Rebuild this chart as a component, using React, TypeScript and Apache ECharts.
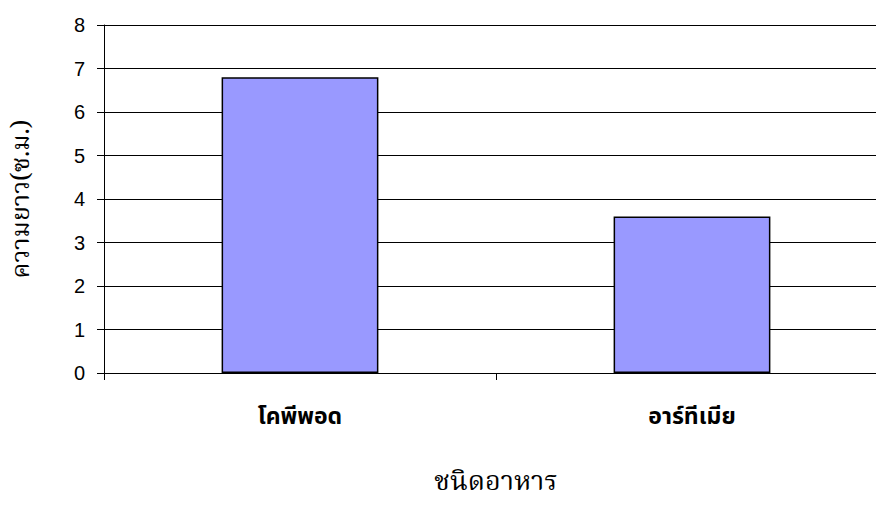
import React, { useEffect, useRef } from "react";
import * as echarts from "echarts";

// Food types and the measured length (cm) for each
const categories: string[] = ["โคพีพอด", "อาร์ทีเมีย"];
const lengths: number[] = [6.8, 3.6];
const yTicks = { min: 0, max: 8, interval: 1 };

const thaiSerif = '"Noto Serif Thai", "Norasi", "Tlwg Typo", "Garuda", "Loma", serif';
const thaiSans = '"Noto Sans Thai", "Tahoma", "Loma", "Garuda", "Noto Sans", sans-serif';

export default function App() {
  const ref = useRef<HTMLDivElement>(null);

  useEffect(() => {
    if (!ref.current) return;
    const chart = echarts.init(ref.current, undefined, { renderer: "svg" });
    chart.setOption({
      animation: false,
      backgroundColor: "#ffffff",
      grid: {
        left: 104,
        top: 25,
        bottom: 132,
        right: -12,
        containLabel: false,
        outerBoundsMode: "none",
      },
      xAxis: {
        type: "category",
        data: categories,
        name: "ชนิดอาหาร",
        nameLocation: "middle",
        nameGap: 95,
        nameTextStyle: { fontFamily: thaiSerif, fontSize: 27, lineHeight: 28, color: "#000" },
        axisLine: { show: true, lineStyle: { color: "#000", width: 1 } },
        axisTick: { show: true, length: 7, lineStyle: { color: "#000" } },
        axisLabel: {
          fontFamily: thaiSans,
          fontSize: 23,
          fontWeight: "bold",
          color: "#000",
          margin: 32,
        },
      },
      yAxis: {
        type: "value",
        min: yTicks.min,
        max: yTicks.max,
        interval: yTicks.interval,
        name: "ความยาว(ซ.ม.)",
        nameLocation: "middle",
        nameGap: 70,
        nameRotate: 90,
        nameTextStyle: { fontFamily: thaiSerif, fontSize: 25, color: "#000" },
        axisLine: { show: true, lineStyle: { color: "#000", width: 1 } },
        axisTick: { show: true, length: 7, lineStyle: { color: "#000" } },
        axisLabel: {
          fontFamily: '"Liberation Sans", Arial, sans-serif',
          fontSize: 20,
          color: "#000",
          margin: 19,
        },
        splitLine: { show: true, lineStyle: { color: "#000", width: 1 } },
      },
      series: [
        {
          type: "bar",
          data: lengths,
          barWidth: "40%",
          itemStyle: { color: "#9999ff", borderColor: "#000", borderWidth: 1.5 },
        },
      ],
    });
    return () => chart.dispose();
  }, []);

  return (
    <div
      ref={ref}
      style={{ position: "fixed", left: 0, top: 0, width: 876, height: 505, background: "#fff" }}
    />
  );
}
